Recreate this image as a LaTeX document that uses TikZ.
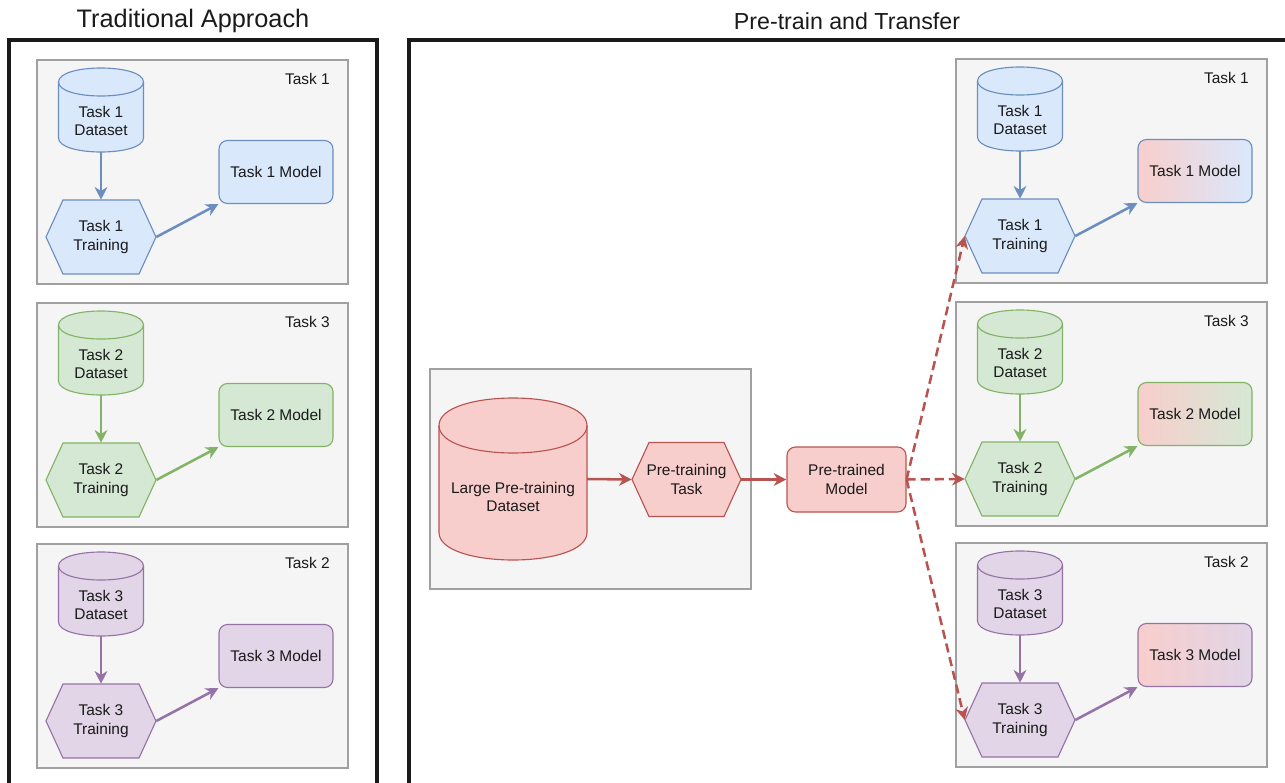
\documentclass[tikz,border=0pt]{standalone}
\usepackage{fontspec}
\setmainfont{Liberation Sans}
\usetikzlibrary{arrows.meta}
\definecolor{bluefill}{HTML}{DAE8FC}
\definecolor{bluedraw}{HTML}{6C8EBF}
\definecolor{greenfill}{HTML}{D5E8D4}
\definecolor{greendraw}{HTML}{82B366}
\definecolor{purplefill}{HTML}{E1D5E7}
\definecolor{purpledraw}{HTML}{9673A6}
\definecolor{redfill}{HTML}{F8CECC}
\definecolor{reddraw}{HTML}{B85450}
\definecolor{panelfill}{HTML}{F5F5F5}
\definecolor{paneldraw}{HTML}{A0A0A0}
\definecolor{txtcol}{HTML}{1A1A1A}
\definecolor{framecol}{HTML}{1A1A1A}
\tikzset{
  txt/.style={font=\fontsize{11}{13}\selectfont, text=txtcol, align=center, inner sep=0pt},
  titletxt/.style={text=txtcol, inner sep=0pt},
  shapebox/.style={inner sep=0pt, outer sep=0pt},
  panel/.style={fill=panelfill, draw=paneldraw, line width=1.1pt},
  frame/.style={draw=framecol, line width=2.2pt},
  arr/.style={line width=1.8pt, -{Stealth[length=9pt,width=9pt,inset=2.8pt]}},
  dasharr/.style={arr, draw=reddraw, dash pattern=on 6.5pt off 3.5pt},
  model/.style={txt, rounded corners=6pt, line width=0.8pt, minimum width=114*0.025cm, minimum height=63*0.025cm},
}
% cylinder: name, cx, top, w, h, ry, style, text offset, text
\newcommand\cyl[9]{%
  \path[#7] ({#2-#4/2},{#3+#6}) -- ({#2-#4/2},{#3+#5-#6})
    .. controls ({#2-#4/2},{#3+#5+#6/3}) and ({#2+#4/2},{#3+#5+#6/3}) .. ({#2+#4/2},{#3+#5-#6})
    -- ({#2+#4/2},{#3+#6})
    .. controls ({#2+#4/2},{#3-#6/3}) and ({#2-#4/2},{#3-#6/3}) .. ({#2-#4/2},{#3+#6}) -- cycle;
  \path[#7, fill=none] ({#2-#4/2},{#3+#6})
    .. controls ({#2-#4/2},{#3+#6*7/3}) and ({#2+#4/2},{#3+#6*7/3}) .. ({#2+#4/2},{#3+#6});
  \node[shapebox, minimum width={#4*0.025cm}, minimum height={#5*0.025cm}] (#1) at ({#2},{#3+#5/2}) {};
  \node[txt] (#1t) at ({#2},{#3+#5/2+#8}) {#9};
}
% hexagon: name, cx, cy, w, h, slant, style, text
\newcommand\hexa[8]{%
  \path[#7] ({#2-#4/2},{#3}) -- ({#2-#4/2+#6},{#3-#5/2}) -- ({#2+#4/2-#6},{#3-#5/2})
    -- ({#2+#4/2},{#3}) -- ({#2+#4/2-#6},{#3+#5/2}) -- ({#2-#4/2+#6},{#3+#5/2}) -- cycle;
  \node[txt, minimum width={#4*0.025cm}, minimum height={#5*0.025cm}] (#1) at ({#2},{#3}) {#8};
}
% task panel: prefix, px, py, colour, label, number, model fill
\newcommand\taskpanel[7]{%
  \path[panel] ({#2},{#3}) rectangle ({#2+311},{#3+224});
  \node[txt, anchor=east] (#1lab) at ({#2+293},{#3+19}) {#5};
  \cyl{#1ds}{#2+64}{#3+8}{85}{84}{14}{fill=#4fill, draw=#4draw, line width=0.8pt}{11}{Task #6\\Dataset}
  \hexa{#1tr}{#2+64}{#3+177}{110}{74}{17}{fill=#4fill, draw=#4draw, line width=0.8pt}{Task #6\\Training}
  \node[model, draw=#4draw, #7] (#1md) at ({#2+239},{#3+112}) {Task #6 Model};
  \draw[arr, draw=#4draw] (#1ds.south) -- (#1tr.north);
  \draw[arr, draw=#4draw] (#1tr.east) -- (#1md.south west);
}
\begin{document}
\begin{tikzpicture}[x=0.025cm, y=-0.025cm]
\useasboundingbox (0,0) rectangle (1285,783);
\clip (0,0) rectangle (1285,783);
% titles
\node[titletxt, font=\fontsize{18}{21}\selectfont] (t1) at (193,21) {Traditional Approach};
\node[titletxt, font=\fontsize{16.5}{20}\selectfont] (t2) at (847,21) {Pre-train and Transfer};
% frames
\draw[frame] (9,800) -- (9,40) -- (377,40) -- (377,800);
\draw[frame] (409,800) -- (409,40) -- (1300,40);
% left panels
\taskpanel{La}{37}{60}{blue}{Task 1}{1}{fill=bluefill}
\taskpanel{Lb}{37}{303}{green}{Task 3}{2}{fill=greenfill}
\taskpanel{Lc}{37}{544}{purple}{Task 2}{3}{fill=purplefill}
% right panels
\taskpanel{Ra}{956}{59}{blue}{Task 1}{1}{left color=redfill, right color=bluefill}
\taskpanel{Rb}{956}{302}{green}{Task 3}{2}{left color=redfill, right color=greenfill}
\taskpanel{Rc}{956}{543}{purple}{Task 2}{3}{left color=redfill, right color=purplefill}
% pre-training
\path[panel] (430,369) rectangle (751,589);
\cyl{bigds}{513}{398}{148}{162}{27.5}{fill=redfill, draw=reddraw, line width=0.8pt}{18}{Large Pre-training\\Dataset}
\hexa{pt}{686.5}{479.5}{109}{74}{17}{fill=redfill, draw=reddraw, line width=0.8pt}{Pre-training\\Task}
\node[model, fill=redfill, draw=reddraw, minimum width=119*0.025cm, minimum height=65*0.025cm] (pm) at (846.5,479.5) {Pre-trained\\Model};
\draw[arr, draw=reddraw] (bigds.east) -- (pt.west);
\draw[arr, draw=reddraw] (pt.east) -- (pm.west);
% transfer
\draw[dasharr] (pm.east) -- (Ratr.west);
\draw[dasharr] (pm.east) -- (Rbtr.west);
\draw[dasharr] (pm.east) -- (Rctr.west);
\end{tikzpicture}
\end{document}
